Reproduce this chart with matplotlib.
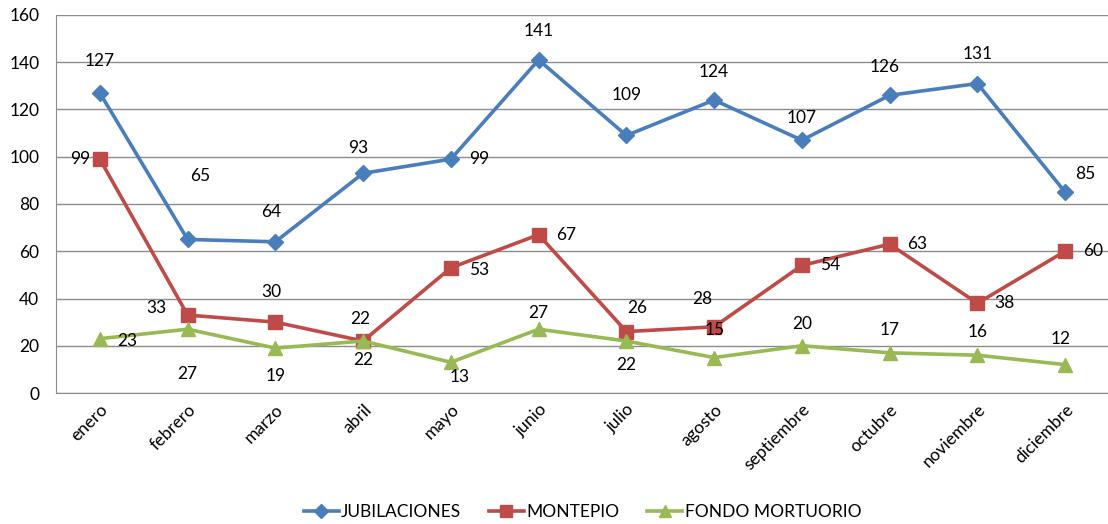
import matplotlib
matplotlib.use('Agg')
import matplotlib.pyplot as plt

plt.rcParams['font.family'] = ['Lato', 'DejaVu Sans']

meses = ['enero', 'febrero', 'marzo', 'abril', 'mayo', 'junio', 'julio',
         'agosto', 'septiembre', 'octubre', 'noviembre', 'diciembre']
jubilaciones = [127, 65, 64, 93, 99, 141, 109, 124, 107, 126, 131, 85]
montepio = [99, 33, 30, 22, 53, 67, 26, 28, 54, 63, 38, 60]
fondo = [23, 27, 19, 22, 13, 27, 22, 15, 20, 17, 16, 12]

# desplazamientos de las etiquetas (pixeles, y hacia abajo como en la imagen)
off_jub = [(0, -32), (13, -63), (-4, -30), (-5, -25), (28, 0), (0, -29),
           (0, -40), (0, -28), (0, -22), (-5, -28), (0, -30), (20, -18)]
off_mon = [(-20, 0), (-31, -7), (-4, -30), (-3, -22), (28, 2), (28, 0),
           (11, -24), (-12, -28), (28, 0), (28, 0), (27, 0), (28, 0)]
off_fon = [(27, 2), (0, 45), (0, 28), (0, 19), (9, 15), (0, -16),
           (0, 24), (1, -28), (0, -22), (0, -23), (0, -23), (-4, -26)]

W, H = 1108, 524
fig = plt.figure(figsize=(W / 100, H / 100), dpi=100)
ax = fig.add_axes([56 / W, (H - 393) / H, (1109 - 56) / W, (393 - 15) / H])

x = list(range(len(meses)))
series = [
    (jubilaciones, 'JUBILACIONES', '#4A7EBB', 'D', 8, off_jub),
    (montepio, 'MONTEPIO', '#BE4B48', 's', 9.5, off_mon),
    (fondo, 'FONDO MORTUORIO', '#98B954', '^', 10, off_fon),
]
for vals, name, col, mk, ms, offs in series:
    ax.plot(x, vals, color=col, lw=2.6, marker=mk, markersize=ms, label=name, zorder=3)
    for xi, v, (dx, dy) in zip(x, vals, offs):
        ax.annotate(str(v), (xi, v), xytext=(dx, -dy), textcoords='offset pixels',
                    ha='center', va='center', fontsize=12.5, color='black', zorder=4)

ax.set_xlim(-0.5, len(meses) - 0.5)
ax.set_ylim(0, 160)
ax.set_yticks(range(0, 161, 20))
ax.yaxis.grid(True, color='#8C8C8C', lw=1)
ax.set_axisbelow(True)
for s in ['top', 'right']:
    ax.spines[s].set_visible(False)
ax.spines['left'].set_color('#8C8C8C')
ax.spines['bottom'].set_color('#8C8C8C')
ax.tick_params(axis='y', length=0, labelsize=12.5, pad=12)
ax.tick_params(axis='x', length=0, labelsize=12.5, pad=6)
ax.set_xticks(x)
ax.set_xticklabels(meses, rotation=45, ha='right', rotation_mode='anchor')

leg = ax.legend(loc='center', bbox_to_anchor=(0.5, -0.315), ncol=3, frameon=False,
                fontsize=12.5, handlelength=2.0, columnspacing=1.6, handletextpad=0.15,
                markerscale=0.85)

fig.savefig('out.png', dpi=100)
